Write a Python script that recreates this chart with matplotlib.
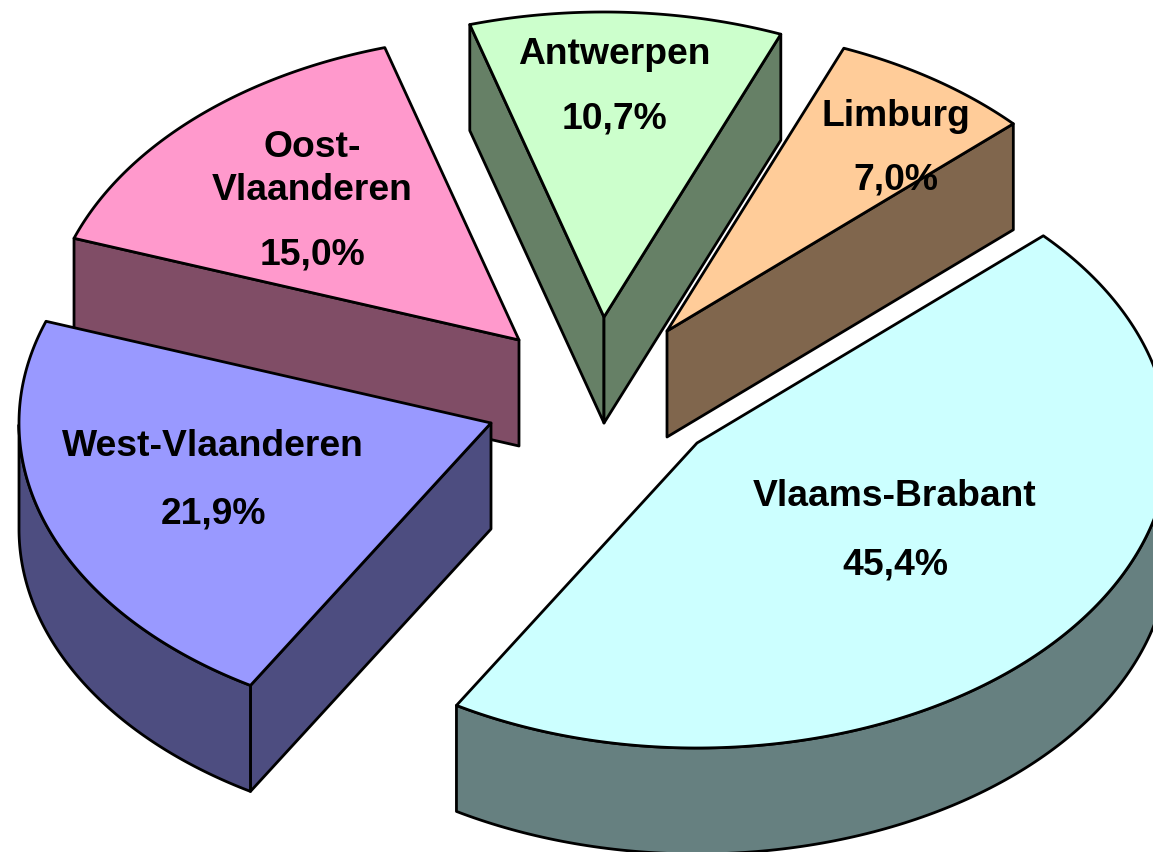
import numpy as np
import matplotlib
matplotlib.use("Agg")
import matplotlib.pyplot as plt
from matplotlib.patches import Polygon

# data (clockwise from the start angle)
provinces = ["Vlaams-Brabant", "West-Vlaanderen", "Oost-\nVlaanderen", "Antwerpen", "Limburg"]
shares = [45.4, 21.9, 15.0, 10.7, 7.0]

# style / layout
top_colors = ["#CCFFFF", "#9999FF", "#FF99CC", "#CCFFCC", "#FFCC99"]
side_colors = ["#668080", "#4D4D80", "#804D66", "#668066", "#80664D"]
apexes = [(697, 443), (491, 423), (519, 340), (604, 317), (667, 331)]
name_xy = [(895, 497), (213, 447), (312, 169), (614, 54), (896, 116)]
pct_xy = [(895, 565), (213, 514), (312, 255), (614, 119), (896, 180)]
draw_order = [3, 4, 2, 1, 0]
RX, RY, DEPTH, START = 472, 305, 106, 42.8
FS = 26.8
LW = 2.0

plt.rcParams["font.family"] = ["Liberation Sans", "DejaVu Sans"]
fig = plt.figure(figsize=(11.53, 8.52), dpi=100)
ax = fig.add_axes([0, 0, 1, 1])
ax.set_xlim(0, 1153)
ax.set_ylim(852, 0)
ax.axis("off")

edges = START - np.concatenate([[0], np.cumsum(shares)]) * 3.6


def face(pts, color, z):
    ax.add_patch(Polygon(pts, closed=True, facecolor=color, edgecolor="black",
                         linewidth=LW, joinstyle="round", zorder=z))


def point(center, deg):
    t = np.radians(deg)
    return np.column_stack([center[0] + RX * np.cos(t), center[1] - RY * np.sin(t)])


for rank, i in enumerate(draw_order):
    c = np.array(apexes[i], float)
    a0, a1 = edges[i], edges[i + 1]          # a0 > a1, clockwise
    arc = point(c, np.linspace(a0, a1, 200))
    down = np.array([0, DEPTH])
    z = rank * 10 + 1

    # radial side faces, only those turned towards the viewer
    for end, sign in ((arc[0], -1), (arc[-1], 1)):
        if sign * (end - c)[0] > 0:
            face([c, end, end + down, c + down], side_colors[i], z)

    # outer rim: lower half of the ellipse
    deg = np.linspace(a0, a1, 200)
    s = np.sin(np.radians(deg)) <= 0
    if s.any():
        rim = arc[s]
        face(np.vstack([rim, (rim + down)[::-1]]), side_colors[i], z + 1)

    # top surface
    face(np.vstack([c, arc]), top_colors[i], z + 2)

for i in range(len(shares)):
    ax.text(*name_xy[i], provinces[i], fontsize=FS, fontweight="bold", ha="center",
            va="center", linespacing=1.32, zorder=100)
    ax.text(*pct_xy[i], f"{shares[i]:.1f}%".replace(".", ","), fontsize=FS,
            fontweight="bold", ha="center", va="center", zorder=100)

fig.savefig("out.png", dpi=100)
